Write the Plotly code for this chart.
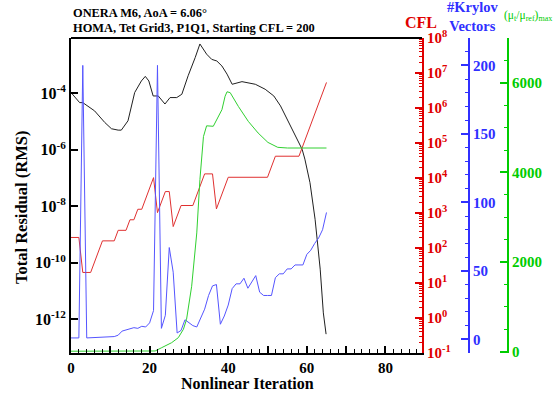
import plotly.graph_objects as go

# ---- data ----
res_iter = [0, 2.2, 3, 6, 8.6, 10.3, 12, 12.8, 14.5, 16.2, 17.9, 18.9, 19.8, 20.9, 22.2,
            23.9, 25.2, 26.9, 28.2, 29.8, 31.6, 32.8, 34.5, 35.8, 37.1, 38.4, 39.7, 41,
            43.5, 46.9, 49.4, 51.6, 53.3, 55.4, 57.5, 58.8, 59.5, 60.8, 62.1, 63.4, 64.2, 64.9]
residual = [1.07e-4, 4.7e-5, 4.7e-5, 2.4e-5, 9.3e-6, 5.6e-6, 5.0e-6, 5.0e-6, 1.07e-5, 1.07e-4,
            2.75e-4, 4.0e-4, 2.75e-4, 8.1e-5, 8.1e-5, 4.2e-5, 7.1e-5, 7.1e-5, 9.3e-5, 4.2e-4,
            1.86e-3, 5.6e-3, 2.45e-3, 1.6e-3, 1.4e-3, 9.3e-4, 4.8e-4, 2.1e-4, 2.6e-4, 2.1e-4,
            1.4e-4, 8.1e-5, 3.6e-5, 9.3e-6, 2.4e-6, 1.05e-6, 4.7e-7, 6.9e-8, 3.5e-9, 6.0e-11,
            1.7e-12, 3.0e-13]

cfl_iter = [0, 2, 3, 5, 8, 11, 12, 14, 15, 16, 17, 18, 21, 22, 24, 25, 26, 28, 31, 34, 36,
            37, 40, 50, 52, 58, 65]
cfl = [200, 200, 20, 20, 160, 160, 320, 320, 640, 640, 1280, 1280, 10240, 1024, 4096, 4096,
       409.6, 1638.4, 1638.4, 13107, 13107, 1310.7, 10486, 10486, 41943, 41943, 5368709]

kry_iter = [0, 2, 3, 4, 11, 12, 13, 14, 15, 16, 17, 18, 19, 20, 21, 22, 23, 24, 25, 26, 27,
            28, 29, 30, 31, 32, 33, 34, 35, 36, 37, 38, 39, 40, 41, 42, 43, 44, 45, 46, 47,
            48, 49, 50, 51, 52, 53, 54, 55, 56, 57, 58, 59, 60, 61, 62, 63, 64, 65]
krylov = [1, 1, 200, 1, 2, 3, 6, 7, 7.5, 8.5, 8, 9.5, 9, 12, 21, 200, 8, 17.5, 67, 49, 4.6,
          6.5, 14.3, 12, 10, 9, 15, 22, 32, 39, 40, 11, 17, 25, 37, 40.5, 40.5, 44.6, 37.3,
          42, 46.5, 34.4, 32, 32, 32, 45, 47.8, 47.8, 51.4, 51.4, 54.3, 54.3, 54.3, 62, 65,
          70, 74, 80, 92.6]

mu_iter = [0, 19, 21.4, 23.1, 25.6, 27.3, 28.6, 29.4, 30.7, 32, 32.8, 33.7, 34.5, 36.2, 37.1,
           38.4, 39.2, 39.7, 40.5, 42.6, 45.1, 47.6, 50.1, 52.6, 55.1, 65]
mu_ratio = [10, 10, 15, 90, 200, 312, 500, 720, 1460, 2650, 3840, 4800, 5040, 5030, 5180,
            5400, 5700, 5800, 5780, 5470, 5140, 4880, 4670, 4560, 4545, 4545]

x_ticks = [0, 10, 20, 30, 40, 50, 60, 70, 80]
x_labels = ["0", "", "20", "", "40", "", "60", "", "80"]
res_exp = [-12, -10, -8, -6, -4]
cfl_exp = [-1, 0, 1, 2, 3, 4, 5, 6, 7, 8]
kry_ticks = [0, 50, 100, 150, 200]
mu_ticks = [0, 2000, 4000, 6000]

# ---- styling ----
W, H = 558, 396
FONT = "Liberation Serif"
RED, BLUE, GREEN = "#e00000", "#3030ff", "#00cc00"
x0, x1 = 71 / W, 422 / W
y0, y1 = 1 - 353 / H, 1 - 38 / H

fig = go.Figure()
fig.add_trace(go.Scatter(x=mu_iter, y=mu_ratio, yaxis="y4", mode="lines",
                         line=dict(color="#30d030", width=1), showlegend=False))
fig.add_trace(go.Scatter(x=kry_iter, y=krylov, yaxis="y3", mode="lines",
                         line=dict(color="#5555ff", width=1), showlegend=False))
fig.add_trace(go.Scatter(x=cfl_iter, y=cfl, yaxis="y2", mode="lines",
                         line=dict(color="#e03030", width=1), showlegend=False))
fig.add_trace(go.Scatter(x=res_iter, y=residual, yaxis="y", mode="lines",
                         line=dict(color="#202020", width=1), showlegend=False))

def tf(color, size=15):
    return dict(family=FONT, size=size, color=color, weight="bold")

cfl_minor = [m * 10 ** e for e in range(-1, 8) for m in range(2, 10)]

fig.update_layout(
    width=W, height=H, margin=dict(l=0, r=0, t=0, b=0, autoexpand=False),
    paper_bgcolor="white", plot_bgcolor="white",
    xaxis=dict(domain=[x0, x1], range=[0, 89.3], showline=True, linecolor="black",
               linewidth=2, ticks="inside", ticklen=7, tickwidth=1.5,
               tickcolor="black", tickmode="array", tickvals=x_ticks, ticktext=x_labels,
               minor=dict(ticks="inside", ticklen=4, dtick=2, tickcolor="black", tickwidth=1),
               tickfont=tf("black", 15), showgrid=False, zeroline=False, anchor="y",
               automargin=False),
    yaxis=dict(domain=[y0, y1], type="log", range=[-13.19, -2.04], showline=True,
               linecolor="black", linewidth=2, ticks="inside", ticklen=7, tickwidth=1.5,
               tickcolor="black", tickmode="array",
               tickvals=[10 ** e for e in res_exp],
               ticktext=["10<sup>%d</sup>" % e for e in res_exp],
               tickfont=tf("black", 16), showgrid=False, zeroline=False, anchor="x",
               automargin=False),
    yaxis2=dict(type="log", range=[-1, 8], overlaying="y", side="right", anchor="x",
                showline=True, linecolor=RED, linewidth=2, ticks="inside", ticklen=7,
                tickwidth=1.5, tickcolor=RED, tickmode="array",
                tickvals=[10 ** e for e in cfl_exp],
                ticktext=["10<sup>%d</sup>" % e for e in cfl_exp],
                minor=dict(ticks="inside", ticklen=3, tickcolor=RED, tickwidth=1,
                           tickmode="array", tickvals=cfl_minor),
                tickfont=tf(RED), showgrid=False, zeroline=False, automargin=False),
    yaxis3=dict(range=[-10, 220], overlaying="y", side="right", anchor="free",
                position=469 / W, showline=True, linecolor=BLUE, linewidth=2,
                ticks="inside", ticklen=7, tickwidth=1.5, tickcolor=BLUE,
                tickmode="array", tickvals=kry_ticks,
                minor=dict(ticks="inside", ticklen=3, dtick=10, tickcolor=BLUE, tickwidth=1),
                tickfont=tf(BLUE), showgrid=False, zeroline=False, automargin=False),
    yaxis4=dict(range=[-30, 7000], overlaying="y", side="right", anchor="free",
                position=508 / W, showline=True, linecolor=GREEN, linewidth=2,
                ticks="inside", ticklen=7, tickwidth=1.5, tickcolor=GREEN,
                tickmode="array", tickvals=mu_ticks,
                minor=dict(ticks="inside", ticklen=3, dtick=500, tickcolor=GREEN, tickwidth=1),
                tickfont=tf(GREEN), showgrid=False, zeroline=False, automargin=False),
)

# top frame line of the plot box
fig.add_shape(type="line", xref="paper", yref="paper", x0=x0, x1=x1, y0=y1, y1=y1,
              line=dict(color="black", width=2))

def ann(text, x, y, font, xanchor="center", textangle=0):
    fig.add_annotation(text=text, x=x / W, y=1 - y / H, xref="paper", yref="paper",
                       showarrow=False, xanchor=xanchor, yanchor="middle",
                       textangle=textangle, font=font)

ann("ONERA M6, AoA = 6.06°", 71, 13, tf("black", 12.4), xanchor="left")
ann("HOMA, Tet Grid3, P1Q1, Starting CFL = 200", 71, 28, tf("black", 12.4), xanchor="left")
ann("Total Residual (RMS)", 21, 208, tf("black", 16.5), textangle=-90)
ann("Nonlinear Iteration", 247, 383, tf("black", 16))
ann("CFL", 421, 22, tf(RED, 16))
ann("#Krylov<br>Vectors", 472, 16, tf(BLUE, 14.5))
ann("(μ<sub>t</sub>/μ<sub>ref</sub>)<sub>max</sub>", 528, 16,
    dict(family=FONT, size=11.5, color=GREEN))

fig.write_html("out.html")
